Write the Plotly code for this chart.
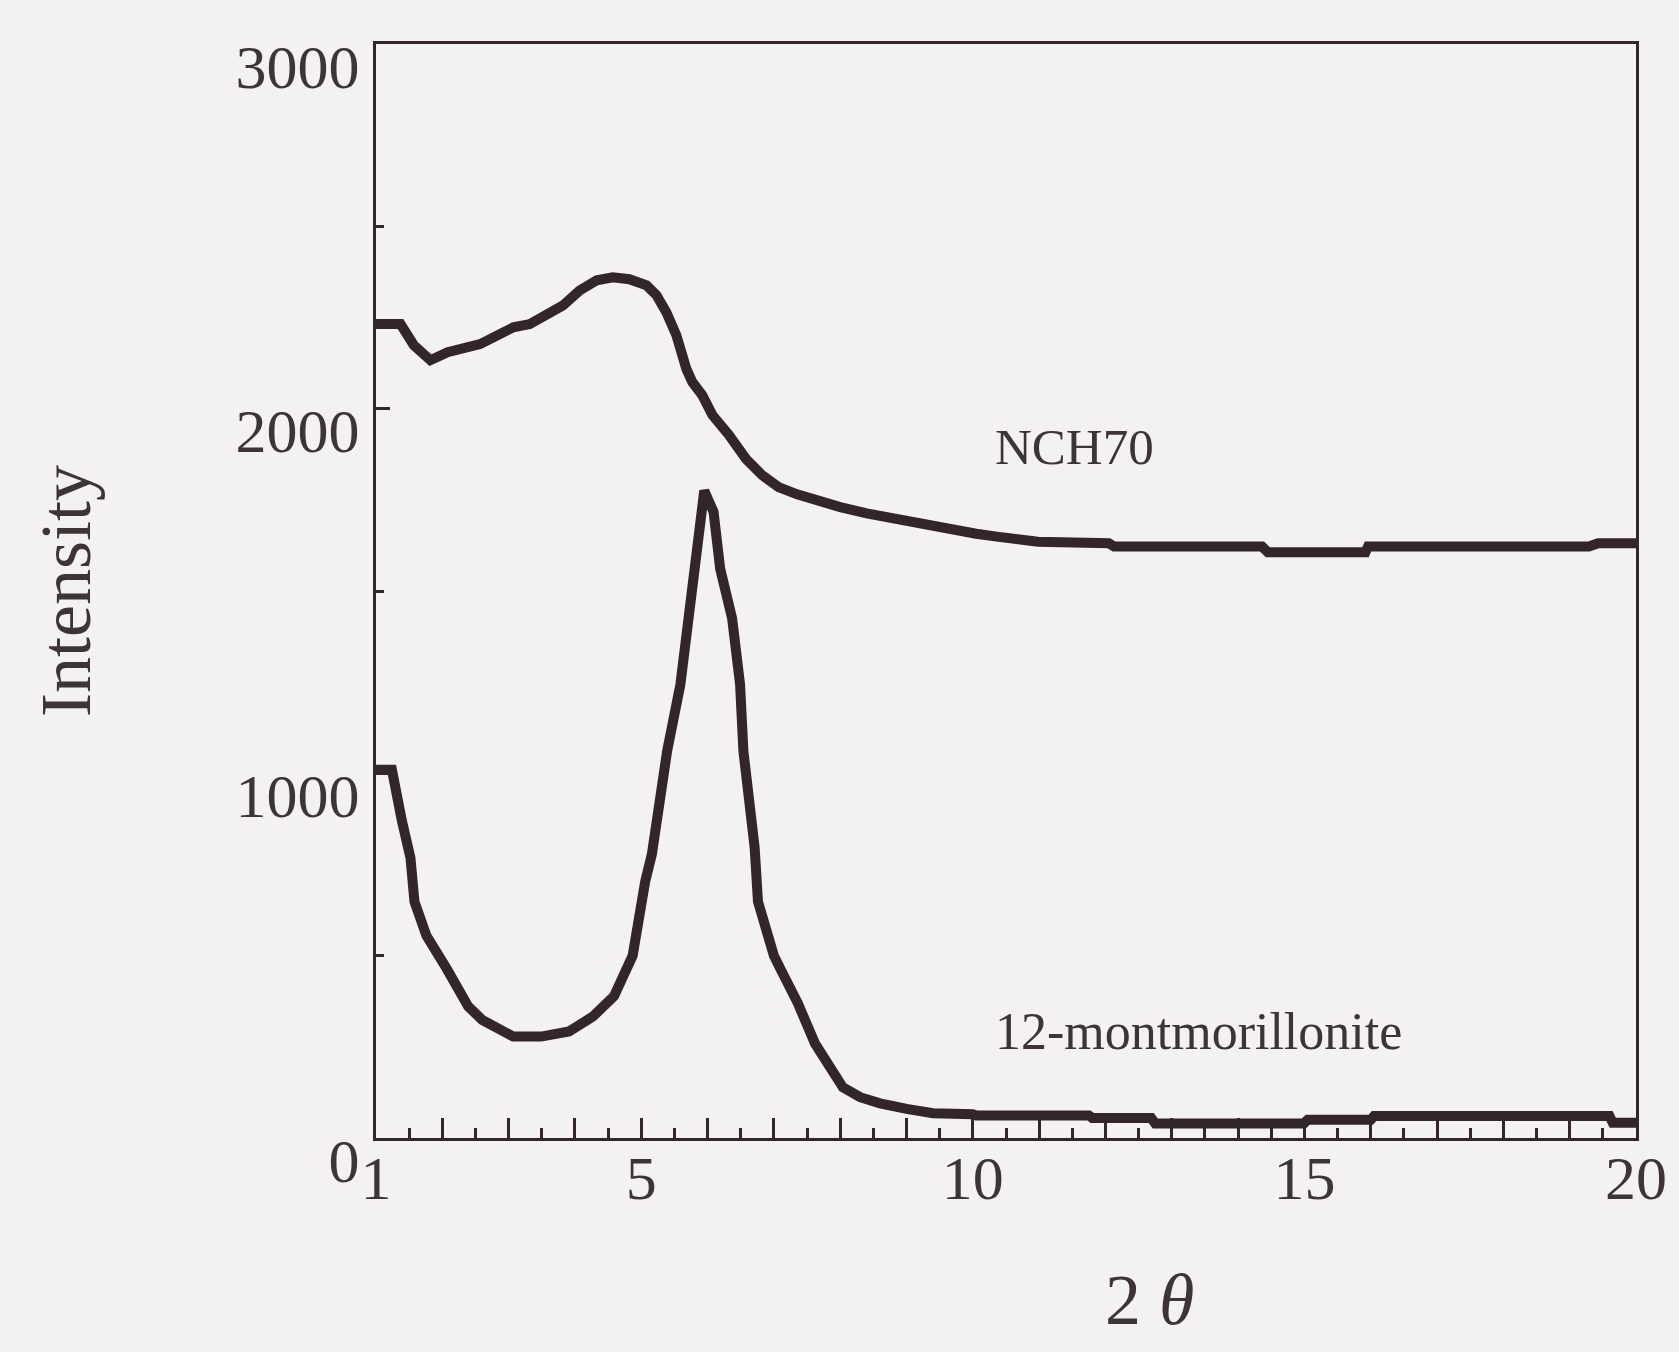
import plotly.graph_objects as go

# ---- data ----
nch70_2theta = [1.0, 1.37, 1.57, 1.82, 2.08, 2.32, 2.57, 2.83, 3.07, 3.32, 3.58, 3.82,
                4.07, 4.33, 4.57, 4.82, 5.08, 5.23, 5.38, 5.53, 5.68, 5.77, 5.92, 6.07,
                6.32, 6.58, 6.82, 7.07, 7.35, 7.69, 8.0, 8.4, 8.75, 9.11, 9.4, 9.73,
                10.05, 10.36, 10.7, 10.98, 12.05, 12.13, 14.36, 14.45, 15.92, 15.96,
                19.29, 19.43, 20.0]
nch70_intensity = [2232, 2232, 2174, 2133, 2155, 2168, 2177, 2201, 2223, 2232, 2256, 2283,
                   2324, 2352, 2360, 2355, 2338, 2311, 2264, 2201, 2109, 2073, 2037, 1983,
                   1928, 1862, 1818, 1785, 1765, 1745, 1730, 1713, 1700, 1685, 1675, 1667,
                   1657, 1649, 1642, 1635, 1631, 1622, 1622, 1606, 1606, 1622,
                   1622, 1631, 1631]

mont_2theta = [1.0, 1.24, 1.39, 1.52, 1.58, 1.76, 2.07, 2.39, 2.6, 2.81, 3.07, 3.49,
               3.91, 4.27, 4.59, 4.87, 4.98, 5.06, 5.16, 5.39, 5.59, 5.74, 5.87, 5.95,
               6.09, 6.19, 6.37, 6.49, 6.54, 6.71, 6.76, 7.0, 7.1, 7.36, 7.62, 7.83,
               8.04, 8.3, 8.6, 9.0, 9.4, 10.0, 10.05, 11.75, 11.8, 12.69, 12.75, 14.99,
               15.05, 16.0, 16.05, 19.6, 19.65, 20.0]
mont_intensity = [1010, 1010, 870, 768, 648, 555, 463, 361, 324, 305, 278, 278,
                  292, 333, 389, 500, 630, 704, 778, 1061, 1244, 1471, 1698, 1775,
                  1717, 1561, 1425, 1244, 1061, 796, 648, 500, 463, 370, 259, 204,
                  139, 112, 95, 80, 68, 65, 62, 62, 55, 55, 40, 40,
                  50, 50, 60, 60, 42, 42]

x_tick_vals = list(range(1, 21))
x_tick_labels = ["1", "", "", "", "5", "", "", "", "", "10", "", "", "", "", "15",
                 "", "", "", "", "20"]
y_tick_vals = [0, 1000, 2000, 3000]
y_tick_labels = ["0", "1000", "2000", "3000"]

INK = "#33262a"
TXT = "#3d3436"
BG = "#f3f1f2"
FONT = "Liberation Serif"

fig = go.Figure()
fig.add_trace(go.Scatter(x=nch70_2theta, y=nch70_intensity, mode="lines",
                         name="NCH70", line=dict(color=INK, width=10)))
fig.add_trace(go.Scatter(x=mont_2theta, y=mont_intensity, mode="lines",
                         name="12-montmorillonite", line=dict(color=INK, width=10)))

fig.update_layout(
    width=1679, height=1352,
    margin=dict(l=376, r=37, t=44, b=214),
    paper_bgcolor=BG, plot_bgcolor=BG,
    showlegend=False,
    font=dict(family=FONT, color=TXT, size=62),
)

fig.update_xaxes(
    range=[1, 20], showgrid=False, zeroline=False,
    showline=True, linecolor=INK, linewidth=3, mirror=True,
    tickmode="array", tickvals=x_tick_vals, ticktext=x_tick_labels,
    ticks="inside", ticklen=20, tickwidth=3, tickcolor=INK,
    minor=dict(tick0=1.5, dtick=1, ticks="inside", ticklen=10, tickwidth=3, tickcolor=INK),
    tickfont=dict(family=FONT, size=62, color=TXT),
    ticklabelstandoff=-16,
)
fig.update_yaxes(
    range=[0, 3000], showgrid=False, zeroline=False,
    showline=True, linecolor=INK, linewidth=3, mirror=True,
    tickmode="array", tickvals=y_tick_vals, ticktext=y_tick_labels,
    ticks="inside", ticklen=14, tickwidth=3, tickcolor=INK,
    minor=dict(tick0=500, dtick=1000, ticks="inside", ticklen=8, tickwidth=3, tickcolor=INK),
    tickfont=dict(family=FONT, size=62, color=TXT),
    ticklabelshift=22, ticklabelstandoff=1,
    title=dict(text="Intensity", font=dict(family=FONT, size=72, color=TXT), standoff=122),
)

fig.add_annotation(x=10.3, y=1896, xref="x", yref="y", text="NCH70", showarrow=False,
                   xanchor="left", yanchor="middle",
                   font=dict(family=FONT, size=51, color=TXT))
fig.add_annotation(x=10.3, y=292, xref="x", yref="y", text="12-montmorillonite",
                   showarrow=False, xanchor="left", yanchor="middle",
                   font=dict(family=FONT, size=52, color=TXT))
fig.add_annotation(x=12.66, y=-0.148, xref="x", yref="paper", text="2 <i>θ</i>",
                   showarrow=False, xanchor="center", yanchor="middle",
                   font=dict(family=FONT, size=72, color=TXT))

fig.write_html("out.html")
